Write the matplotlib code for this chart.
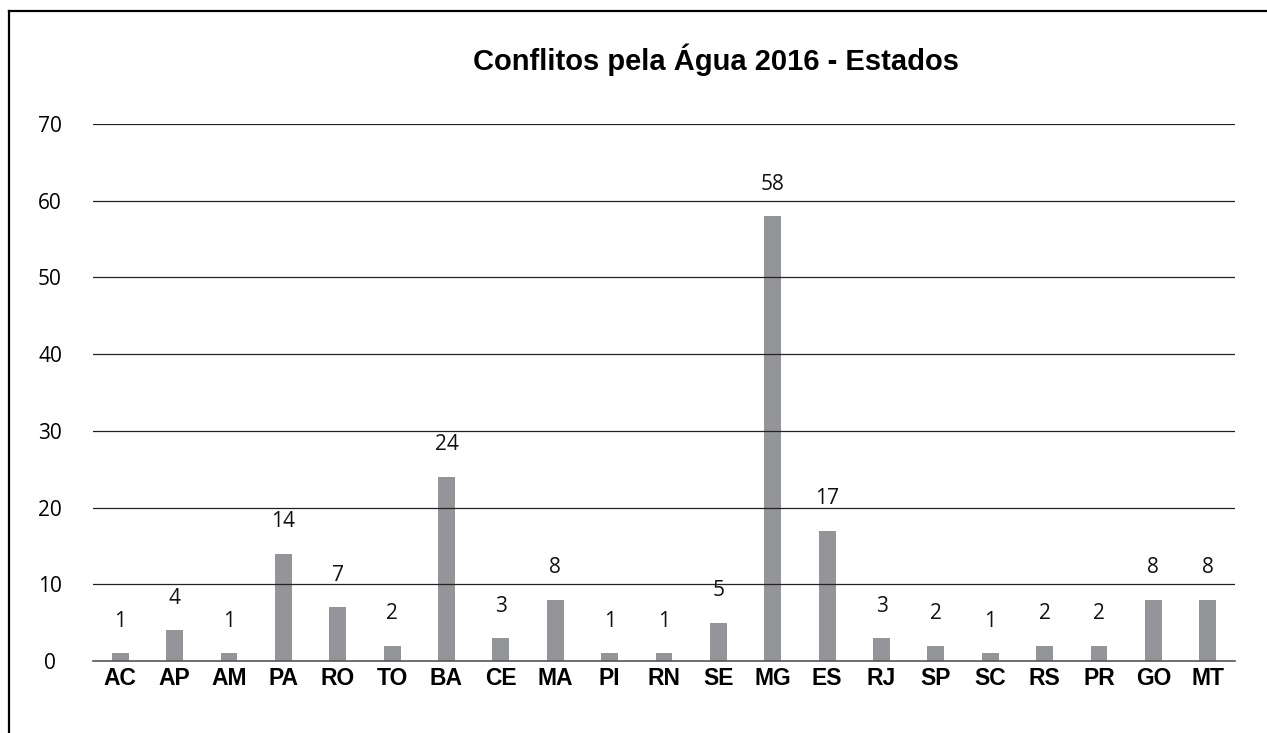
import matplotlib

matplotlib.use("Agg")

import matplotlib.pyplot as plt
from matplotlib.lines import Line2D

# Conflitos pela Água 2016 por estado
estados = ["AC", "AP", "AM", "PA", "RO", "TO", "BA", "CE", "MA", "PI", "RN",
           "SE", "MG", "ES", "RJ", "SP", "SC", "RS", "PR", "GO", "MT"]
conflitos = [1, 4, 1, 14, 7, 2, 24, 3, 8, 1, 1, 5, 58, 17, 3, 2, 1, 2, 2, 8, 8]
y_ticks = [0, 10, 20, 30, 40, 50, 60, 70]

BAR_COLOR = "#939598"
NUM_FONT = "Open Sans"
LABEL_FONT = "Liberation Sans"

fig = plt.figure(figsize=(12.67, 7.33), dpi=100)
ax = fig.add_axes([93 / 1267, 1 - 661 / 733, (1235 - 93) / 1267, (661 - 124) / 733])

x = list(range(len(estados)))
ax.bar(x, conflitos, width=0.31, color=BAR_COLOR, zorder=1)

# data labels above each bar
for xi, v in zip(x, conflitos):
    ax.annotate(str(v), (xi, v), xytext=(0, 23), textcoords="offset points",
                ha="center", va="center", fontsize=15, family=NUM_FONT,
                color="#111111")

# horizontal gridlines drawn over the bars
for t in y_ticks[1:]:
    ax.axhline(t, color="#222222", linewidth=0.9, zorder=3)

ax.set_xlim(-0.5, len(estados) - 0.5)
ax.set_ylim(0, 70)
ax.set_yticks(y_ticks)
ax.set_xticks(x)
ax.set_xticklabels(estados, fontsize=16.5, fontweight="bold", family=LABEL_FONT)
ax.set_yticklabels([str(t) for t in y_ticks], fontsize=15, family=NUM_FONT,
                   ha="center")
ax.tick_params(axis="y", length=0, pad=31)
ax.tick_params(axis="x", length=0, pad=4)

for side in ["top", "right", "left"]:
    ax.spines[side].set_visible(False)
ax.spines["bottom"].set_color("#555555")
ax.spines["bottom"].set_linewidth(1.2)
ax.spines["bottom"].set_zorder(3)

fig.text(716 / 1267, 1 - 60 / 733, "Conflitos pela Água 2016 - Estados",
         ha="center", va="center", fontsize=21, fontweight="bold",
         family=LABEL_FONT)

# outer frame (left and top edges only, as in the source image)
fig.add_artist(Line2D([9 / 1267, 9 / 1267], [0, 1 - 11 / 733],
                      transform=fig.transFigure, color="black", linewidth=1.6))
fig.add_artist(Line2D([9 / 1267, 1], [1 - 11 / 733, 1 - 11 / 733],
                      transform=fig.transFigure, color="black", linewidth=1.6))

fig.savefig("out.png", dpi=100)
plt.close(fig)
